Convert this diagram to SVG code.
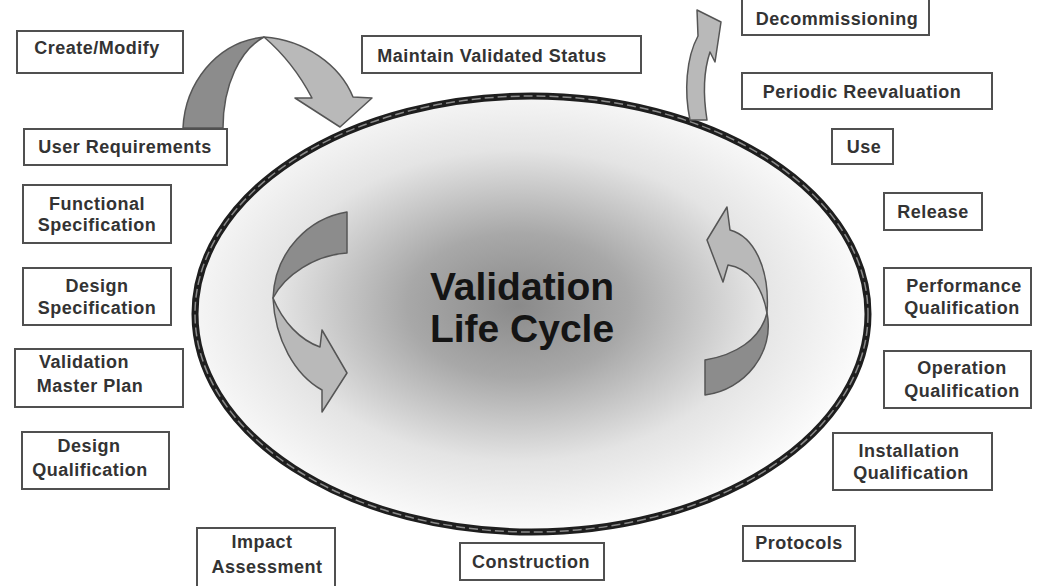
<svg xmlns="http://www.w3.org/2000/svg" width="1038" height="586" viewBox="0 0 1038 586">
<style>
.box{fill:#fff;stroke:#505050;stroke-width:2}
.t{font-family:"Liberation Sans",Arial,sans-serif;font-weight:bold;font-size:18px;fill:#333;letter-spacing:0.5px;text-anchor:middle}
.title{font-family:"Liberation Sans",Arial,sans-serif;font-weight:bold;font-size:39px;fill:#141414;text-anchor:middle}
.dark{fill:#8c8c8c;stroke:#555;stroke-width:1.5;stroke-linejoin:round}
.light{fill:#b9b9b9;stroke:#555;stroke-width:1.5;stroke-linejoin:round}
</style>
<defs>
<radialGradient id="g" cx="0.48" cy="0.48" r="0.55">
<stop offset="0" stop-color="#8a8a8a"/>
<stop offset="0.3" stop-color="#a8a8a8"/>
<stop offset="0.65" stop-color="#e4e4e4"/>
<stop offset="1" stop-color="#ffffff"/>
</radialGradient>
</defs>
<rect width="1038" height="586" fill="#fff"/>
<g id="cycle">
<ellipse cx="531.5" cy="314" rx="336.5" ry="218" fill="url(#g)" stroke="#1e1e1e" stroke-width="7"/>
<ellipse cx="531.5" cy="314" rx="336.5" ry="218" fill="none" stroke="#8a8a8a" stroke-width="1.5" stroke-dasharray="9 4"/>
<text class="title" x="522" y="300">Validation</text>
<text class="title" x="522" y="342">Life Cycle</text>
</g>
<g id="connectors">
<path class="dark" d="M183,128 C185,85 215,42 264,37 C240,50 223,85 223,128 Z"/>
<path class="light" d="M264,37 C305,40 340,65 353,97 L372,98 L340,127 L295,98 L312,98 C300,75 285,55 264,37 Z"/>
<path class="light" d="M690,120 C684,92 686,58 698,36 L697,10 L721,22 L715,62 L710,52 C704,70 703,95 707,120 Z"/>
<path class="dark" d="M347,212 C310,218 275,250 273,298 C285,275 315,255 347,253 Z"/>
<path class="light" d="M273,298 C275,340 295,375 322,390 L322,412 L347,373 L322,330 L320,347 C300,340 283,322 273,298 Z"/>
<path class="light" d="M767,313 C770,270 755,237 730,230 L727,207 L707,240 L723,282 L728,265 C748,268 762,285 767,313 Z"/>
<path class="dark" d="M767,313 C775,352 745,390 705,395 L705,360 C735,355 760,340 767,313 Z"/>
</g>
<g id="create-modify"><rect class="box" x="17" y="31" width="166" height="42"/><text class="t" x="97" y="54">Create/Modify</text></g>
<g id="user-requirements"><rect class="box" x="24" y="129" width="203" height="36"/><text class="t" x="125" y="153">User Requirements</text></g>
<g id="maintain-validated-status"><rect class="box" x="362" y="36" width="279" height="37"/><text class="t" x="492" y="62">Maintain Validated Status</text></g>
<g id="decommissioning"><rect class="box" x="742" y="-2" width="187" height="37"/><text class="t" x="837" y="25">Decommissioning</text></g>
<g id="periodic-reevaluation"><rect class="box" x="742" y="73" width="250" height="36"/><text class="t" x="862" y="98">Periodic Reevaluation</text></g>
<g id="use"><rect class="box" x="832" y="129" width="61" height="35"/><text class="t" x="864" y="153">Use</text></g>
<g id="release"><rect class="box" x="884" y="193" width="98" height="37"/><text class="t" x="933" y="218">Release</text></g>
<g id="functional-specification"><rect class="box" x="23" y="185" width="148" height="58"/><text class="t" x="97" y="210">Functional</text><text class="t" x="97" y="231">Specification</text></g>
<g id="design-specification"><rect class="box" x="23" y="268" width="148" height="57"/><text class="t" x="97" y="292">Design</text><text class="t" x="97" y="314">Specification</text></g>
<g id="validation-master-plan"><rect class="box" x="15" y="349" width="168" height="58"/><text class="t" x="84" y="368">Validation</text><text class="t" x="90" y="392">Master Plan</text></g>
<g id="design-qualification"><rect class="box" x="22" y="432" width="147" height="57"/><text class="t" x="89" y="452">Design</text><text class="t" x="90" y="476">Qualification</text></g>
<g id="impact-assessment"><rect class="box" x="197" y="528" width="138" height="60"/><text class="t" x="262" y="548">Impact</text><text class="t" x="267" y="573">Assessment</text></g>
<g id="construction"><rect class="box" x="460" y="543" width="144" height="37"/><text class="t" x="531" y="568">Construction</text></g>
<g id="protocols"><rect class="box" x="743" y="526" width="112" height="35"/><text class="t" x="799" y="549">Protocols</text></g>
<g id="installation-qualification"><rect class="box" x="833" y="433" width="159" height="57"/><text class="t" x="909" y="457">Installation</text><text class="t" x="911" y="479">Qualification</text></g>
<g id="operation-qualification"><rect class="box" x="884" y="351" width="147" height="57"/><text class="t" x="962" y="374">Operation</text><text class="t" x="962" y="397">Qualification</text></g>
<g id="performance-qualification"><rect class="box" x="884" y="268" width="147" height="57"/><text class="t" x="964" y="292">Performance</text><text class="t" x="962" y="314">Qualification</text></g>
</svg>
